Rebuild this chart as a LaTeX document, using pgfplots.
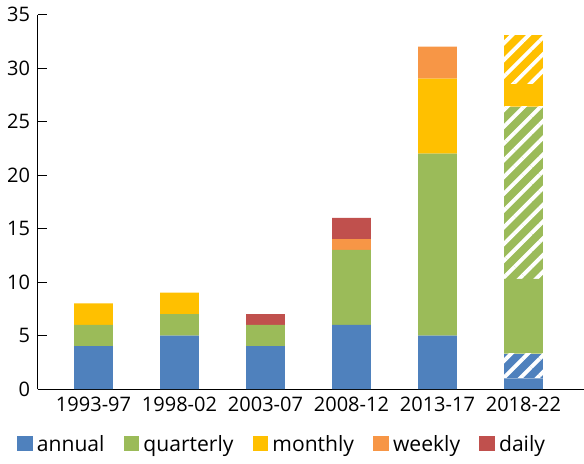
\documentclass[border=0pt]{standalone}
\usepackage{pgfplots}
\pgfplotsset{compat=1.18}
\usepackage{fontspec}
\setmainfont{Open Sans}
\usetikzlibrary{patterns.meta}
\definecolor{cA}{HTML}{4F81BD}
\definecolor{cQ}{HTML}{9BBB59}
\definecolor{cM}{HTML}{FFC000}
\definecolor{cW}{HTML}{F79646}
\definecolor{cD}{HTML}{C0504D}
\tikzset{hatch/.style={postaction={pattern={Lines[angle=45,distance=5.5pt,line width=1.8pt]},pattern color=white}}}
\begin{document}
\begin{tikzpicture}
\begin{axis}[width=10.5cm,height=7.7cm,ybar stacked,bar width=18pt,
 ymin=0,ymax=35,ytick={0,5,...,35},xmin=-0.65,xmax=5.7,xtick=data,
 xticklabels={1993-97,1998-02,2003-07,2008-12,2013-17,2018-22},
 axis y line*=left,axis x line*=bottom,x axis line style={-},y axis line style={-},
 tick style={draw=none},ytick style={draw=black},
 tick label style={font=\fontsize{9.3}{11}\selectfont},/pgf/number format/assume math mode=true,
 legend style={at={(0.45,-0.1)},anchor=north,draw=none,legend columns=-1,font=\fontsize{9.8}{11}\selectfont,
  /tikz/every even column/.append style={column sep=7pt}},
 legend image code/.code={\fill[#1] (0cm,-0.1cm) rectangle (0.25cm,0.15cm);},
 every axis plot/.append style={draw=none}]
\addplot[fill=cA] coordinates {(0,4)(1,5)(2,4)(3,6)(4,5)(5,1)};\addlegendentry{annual}
\addplot[fill=cA,hatch,forget plot] coordinates {(0,0)(1,0)(2,0)(3,0)(4,0)(5,2.3)};
\addplot[fill=cQ] coordinates {(0,2)(1,2)(2,2)(3,7)(4,17)(5,7)};\addlegendentry{quarterly}
\addplot[fill=cQ,hatch,forget plot] coordinates {(0,0)(1,0)(2,0)(3,0)(4,0)(5,16.1)};
\addplot[fill=cM] coordinates {(0,2)(1,2)(2,0)(3,0)(4,7)(5,2.1)};\addlegendentry{monthly}
\addplot[fill=cM,hatch,forget plot] coordinates {(0,0)(1,0)(2,0)(3,0)(4,0)(5,4.6)};
\addplot[fill=cW] coordinates {(0,0)(1,0)(2,0)(3,1)(4,3)(5,0)};\addlegendentry{weekly}
\addplot[fill=cD] coordinates {(0,0)(1,0)(2,1)(3,2)(4,0)(5,0)};\addlegendentry{daily}
\end{axis}
\end{tikzpicture}
\end{document}
